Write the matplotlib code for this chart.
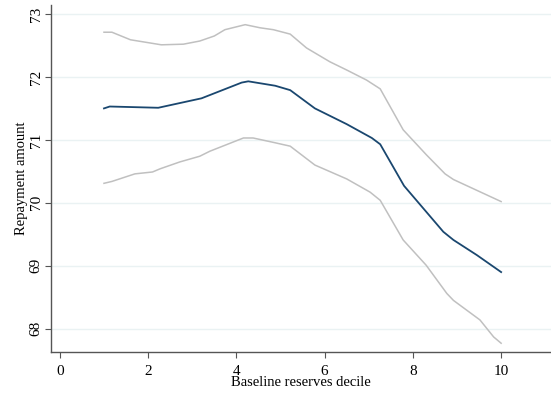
import matplotlib.pyplot as plt

plt.rcParams['font.family'] = ['Liberation Serif', 'DejaVu Serif']

# smoothed repayment by baseline reserves decile, with upper/lower bands
x_mid = [1.0, 1.13, 2.23, 3.21, 4.12, 4.27, 4.88, 5.22, 5.78, 6.5, 7.07, 7.26,
         7.8, 8.69, 8.92, 9.45, 10.0]
y_mid = [71.50, 71.53, 71.51, 71.66, 71.91, 71.93, 71.86, 71.79, 71.50, 71.25,
         71.03, 70.93, 70.27, 69.54, 69.41, 69.17, 68.90]

x_hi = [1.0, 1.18, 1.6, 2.3, 2.8, 3.17, 3.5, 3.74, 4.2, 4.54, 4.84, 5.22, 5.59,
        6.12, 6.5, 6.95, 7.26, 7.78, 8.31, 8.73, 8.92, 10.0]
y_hi = [72.71, 72.71, 72.59, 72.51, 72.52, 72.57, 72.65, 72.75, 72.83, 72.78,
        72.75, 72.68, 72.46, 72.24, 72.11, 71.95, 71.81, 71.16, 70.76, 70.46,
        70.37, 70.02]

x_lo = [1.0, 1.18, 1.7, 2.1, 2.27, 2.72, 3.17, 3.4, 4.16, 4.38, 4.84, 5.22,
        5.78, 6.5, 7.03, 7.26, 7.78, 8.3, 8.77, 8.92, 9.52, 9.83, 10.0]
y_lo = [70.31, 70.34, 70.46, 70.49, 70.54, 70.65, 70.74, 70.82, 71.03, 71.03,
        70.96, 70.90, 70.60, 70.38, 70.17, 70.04, 69.41, 69.01, 68.56, 68.45,
        68.14, 67.87, 67.77]

fig = plt.figure(figsize=(5.51, 3.96), dpi=100)
ax = fig.add_axes([0.0926, 0.111, 0.9074, 0.876])

ax.plot(x_hi, y_hi, color='#c0c0c0', lw=1.1)
ax.plot(x_lo, y_lo, color='#c0c0c0', lw=1.1)
ax.plot(x_mid, y_mid, color='#1a476f', lw=1.3)

ax.set_xlim(-0.2, 11.13)
ax.set_ylim(67.63, 73.14)
ax.set_xticks([0, 2, 4, 6, 8, 10])
ax.set_yticks([68, 69, 70, 71, 72, 73])
ax.yaxis.grid(True, color='#eaf2f3', lw=1)
ax.set_axisbelow(True)

for s in ['top', 'right']:
    ax.spines[s].set_visible(False)
for s in ['left', 'bottom']:
    ax.spines[s].set_color('#555555')
    ax.spines[s].set_linewidth(1)

ax.tick_params(axis='both', length=4, color='#555555', labelsize=11)
ax.tick_params(axis='x', pad=5)
ax.tick_params(axis='y', pad=2)
plt.setp(ax.get_yticklabels(), rotation=90, va='center')

ax.set_xlabel('Baseline reserves decile', fontsize=10.5, labelpad=-1)
ax.set_ylabel('Repayment amount', fontsize=10.5, labelpad=1)

fig.savefig('out.png', dpi=100)
